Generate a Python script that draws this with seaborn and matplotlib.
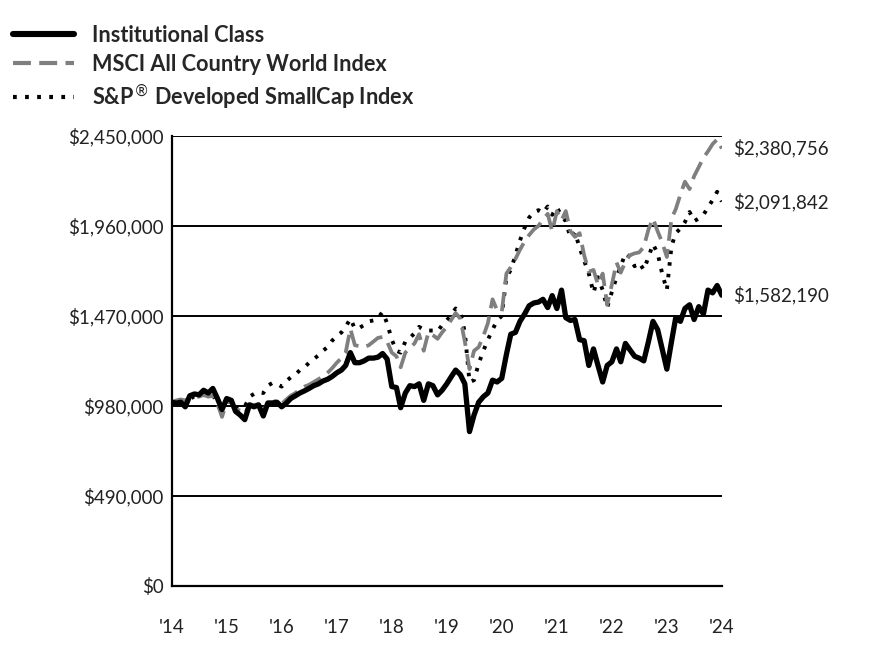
import numpy as np
import pandas as pd
import seaborn as sns
import matplotlib.pyplot as plt
from matplotlib.lines import Line2D

# monthly growth of $1,000,000, Jan 2014 - Jan 2024 (values in $ thousands)
inst = [1000, 995, 1000, 975, 1035, 1045, 1040, 1065, 1050, 1075, 1020, 960,
        1020, 1010, 950, 930, 905, 985, 975, 985, 925, 995, 995, 1000,
        975, 995, 1020, 1035, 1050, 1062, 1075, 1090, 1100, 1115, 1125, 1140,
        1160, 1175, 1200, 1270, 1215, 1215, 1225, 1240, 1240, 1245, 1265, 1235,
        1085, 1080, 970, 1050, 1090, 1085, 1100, 1010, 1100, 1090, 1040, 1065,
        1100, 1140, 1175, 1150, 1100, 840, 930, 1000, 1030, 1050, 1120, 1110,
        1130, 1260, 1370, 1380, 1440, 1480, 1525, 1540, 1545, 1560, 1515, 1580,
        1510, 1610, 1460, 1445, 1450, 1340, 1335, 1200, 1290, 1200, 1110, 1200,
        1220, 1290, 1220, 1320, 1285, 1250, 1240, 1225, 1330, 1440, 1395, 1290,
        1180, 1330, 1460, 1440, 1510, 1530, 1450, 1520, 1480, 1610, 1595, 1635,
        1582.190]
msci = [1000, 1010, 1015, 1010, 1025, 1030, 1030, 1040, 1030, 1035, 990, 920,
        1000, 1000, 960, 955, 935, 990, 985, 990, 950, 1000, 1000, 1010,
        990, 1015, 1035, 1050, 1070, 1085, 1095, 1110, 1125, 1140, 1160, 1185,
        1215, 1240, 1270, 1400, 1310, 1305, 1300, 1310, 1330, 1350, 1355, 1330,
        1270, 1250, 1190, 1270, 1295, 1320, 1370, 1280, 1380, 1365, 1345, 1380,
        1410, 1450, 1485, 1455, 1330, 1180, 1280, 1300, 1360, 1430, 1560, 1500,
        1490, 1700, 1735, 1780, 1830, 1875, 1910, 1940, 1960, 1995, 2025, 1930,
        2040, 1990, 2040, 1930, 1900, 1920, 1800, 1710, 1720, 1640, 1700, 1530,
        1640, 1760, 1705, 1765, 1800, 1810, 1815, 1845, 1940, 2000, 1930, 1870,
        1790, 2000, 2050, 2130, 2200, 2160, 2230, 2280, 2330, 2365, 2405, 2430,
        2380.756]
smallcap = [1000, 1000, 1005, 990, 1020, 1030, 1025, 1040, 1035, 1040, 1000, 965,
            1000, 1005, 975, 965, 975, 1030, 1045, 1055, 1050, 1090, 1105, 1100,
            1085, 1115, 1135, 1150, 1175, 1190, 1215, 1235, 1255, 1280, 1300, 1335,
            1360, 1380, 1410, 1455, 1400, 1405, 1420, 1440, 1445, 1460, 1490, 1430,
            1340, 1280, 1270, 1330, 1350, 1375, 1410, 1395, 1390, 1390, 1385, 1420,
            1445, 1475, 1510, 1490, 1380, 1110, 1120, 1210, 1280, 1340, 1395, 1445,
            1470, 1680, 1720, 1800, 1880, 1950, 2005, 2035, 2045, 2030, 2065, 2020,
            2060, 2015, 1985, 1895, 1925, 1840, 1770, 1700, 1595, 1680, 1610, 1515,
            1600, 1680, 1740, 1810, 1790, 1740, 1760, 1720, 1790, 1860, 1810, 1700,
            1610, 1850, 1920, 1945, 1980, 2035, 1985, 2000, 2020, 2060, 2100, 2145,
            2091.842]
labels = ["Institutional Class", "MSCI All Country World Index",
          "S&P$^{®}$ Developed SmallCap Index"]
year_labels = ["'14", "'15", "'16", "'17", "'18", "'19", "'20", "'21", "'22", "'23", "'24"]

dates = pd.date_range("2014-01-01", periods=len(inst), freq="MS")
df = pd.DataFrame({"date": dates,
                   "inst": np.array(inst) * 1000,
                   "msci": np.array(msci) * 1000,
                   "small": np.array(smallcap) * 1000})

sns.set_style("white")
plt.rcParams["font.family"] = ["Lato", "DejaVu Sans"]
plt.rcParams["mathtext.fontset"] = "dejavusans"

fig = plt.figure(figsize=(8.76, 6.72), dpi=100)
ax = fig.add_axes([0.196, 0.128, 0.628, 0.67])

sns.lineplot(data=df, x="date", y="small", ax=ax, color="black", linewidth=2.8)
ax.lines[-1].set_dashes([0.9, 2.1])
sns.lineplot(data=df, x="date", y="msci", ax=ax, color="#7f7f7f", linewidth=2.7)
ax.lines[-1].set_dashes([5.0, 2.2])
sns.lineplot(data=df, x="date", y="inst", ax=ax, color="black", linewidth=3.8)

ax.set_xlim(dates[0], dates[-1])
ax.set_ylim(0, 2450000)
yt = np.arange(0, 2450001, 490000)
ax.set_yticks(yt)
ax.set_yticklabels([f"${v:,.0f}" for v in yt], fontsize=13.5)
xt = pd.date_range("2014-01-01", "2024-01-01", freq="YS")
ax.set_xticks(xt)
ax.set_xticklabels(year_labels, fontsize=13.5)
ax.set_xlabel("")
ax.set_ylabel("")

ax.yaxis.grid(True, color="black", linewidth=1.4)
ax.xaxis.grid(False)
for s in ["top", "right"]:
    ax.spines[s].set_visible(False)
for s in ["left", "bottom"]:
    ax.spines[s].set_color("black")
    ax.spines[s].set_linewidth(1.6)
ax.tick_params(axis="x", direction="out", length=6, width=1.4, color="black", pad=18)
ax.tick_params(axis="y", length=0, pad=6)
for t in ax.get_xticklabels() + ax.get_yticklabels():
    t.set_color("#222222")

for col in ["msci", "small", "inst"]:
    ax.annotate(f"${df[col].iloc[-1]:,.0f}", xy=(dates[-1], df[col].iloc[-1]),
                xytext=(8, 0), textcoords="offset points", va="center", ha="left",
                fontsize=13.5, color="#222222", annotation_clip=False)

handles = [Line2D([], [], color="black", linewidth=4.4),
           Line2D([], [], color="#7f7f7f", linewidth=3.0, dashes=[4.3, 2.0]),
           Line2D([], [], color="black", linewidth=3.0, dashes=[0.9, 2.0])]
fig.legend(handles, labels, loc="upper left", bbox_to_anchor=(0.015, 0.963),
           frameon=False, borderaxespad=0, borderpad=0, handlelength=2.8,
           handletextpad=0.85, labelspacing=0.36,
           prop={"family": ["Lato", "DejaVu Sans"], "weight": "bold", "size": 15.6})

fig.savefig("out.png", dpi=100)
